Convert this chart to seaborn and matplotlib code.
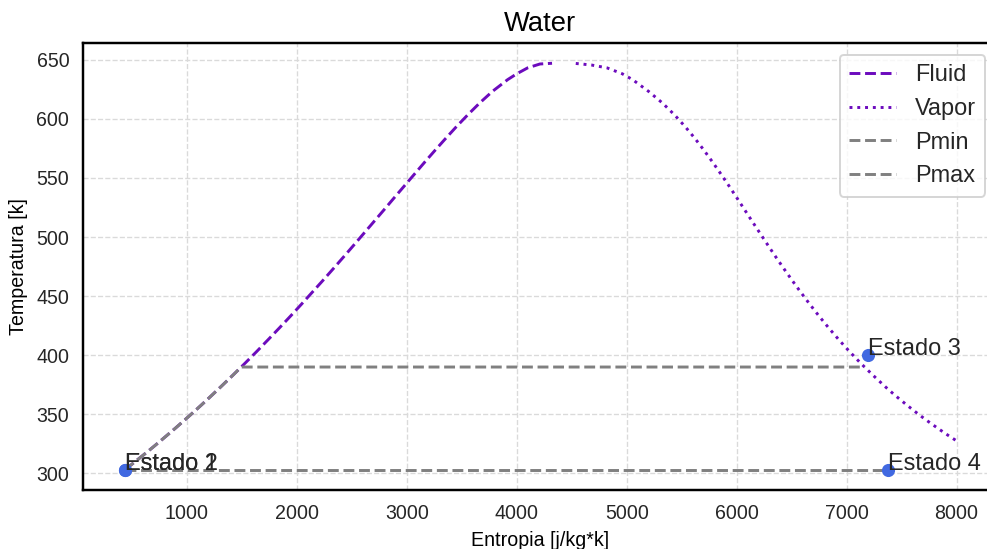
import pandas as pd
import seaborn as sns
import matplotlib.pyplot as plt

# saturated liquid line (T in K, s in J/kg*K)
t_liq = [303.15, 308.15, 313.15, 318.15, 323.15, 328.15, 333.15, 338.15, 343.15, 348.15,
         353.15, 358.15, 363.15, 368.15, 373.15, 383.15, 393.15, 403.15, 413.15, 423.15,
         433.15, 443.15, 453.15, 463.15, 473.15, 483.15, 493.15, 503.15, 513.15, 523.15,
         533.15, 543.15, 553.15, 563.15, 573.15, 583.15, 593.15, 603.15, 613.15, 623.15,
         633.15, 638.15, 643.15, 646.4, 647.0]
s_liq = [437, 505, 572, 639, 704, 768, 831, 894, 955, 1016,
         1076, 1135, 1193, 1250, 1307, 1419, 1528, 1635, 1739, 1842,
         1943, 2042, 2139, 2236, 2331, 2425, 2518, 2610, 2702, 2794,
         2885, 2977, 3069, 3161, 3255, 3351, 3449, 3552, 3660, 3778,
         3917, 4001, 4100, 4211, 4321]

# saturated vapor line
t_vap = [328.15, 333.15, 338.15, 343.15, 348.15, 353.15, 358.15, 363.15, 368.15, 373.15,
         383.15, 393.15, 403.15, 413.15, 423.15, 433.15, 443.15, 453.15, 463.15, 473.15,
         483.15, 493.15, 503.15, 513.15, 523.15, 533.15, 543.15, 553.15, 563.15, 573.15,
         583.15, 593.15, 603.15, 613.15, 623.15, 633.15, 638.15, 643.15, 645.5, 647.0]
s_vap = [7990, 7908, 7830, 7754, 7681, 7611, 7544, 7478, 7415, 7354,
         7239, 7129, 7026, 6929, 6837, 6749, 6665, 6584, 6506, 6430,
         6356, 6284, 6213, 6142, 6072, 6002, 5931, 5858, 5783, 5705,
         5623, 5534, 5437, 5328, 5200, 5054, 4959, 4820, 4681, 4521]

# isobars
pmin_s = [437, 7378]
pmin_t = [303.15, 303.15]
pmax_s = [437, 505, 572, 639, 704, 768, 831, 894, 955, 1016,
          1076, 1135, 1193, 1250, 1307, 1419, 1494, 7164]
pmax_t = [303.15, 308.15, 313.15, 318.15, 323.15, 328.15, 333.15, 338.15, 343.15, 348.15,
          353.15, 358.15, 363.15, 368.15, 373.15, 383.15, 390.0, 390.0]

# estados
estado_nome = ["Estado 1", "Estado 2", "Estado 3", "Estado 4"]
estado_s = [437, 437, 7196, 7378]
estado_t = [303.15, 303.15, 400.0, 303.15]

sns.set_style("white")
plt.rcParams['font.family'] = ['Liberation Sans', 'DejaVu Sans']

fig, ax = plt.subplots(figsize=(7.0, 3.894), dpi=141)
fig.subplots_adjust(left=83/987, right=997/987, bottom=1-490/549, top=1-43/549)

roxo = '#6c0bbd'
sns.lineplot(x=s_liq, y=t_liq, ax=ax, color=roxo, linestyle='--', lw=1.5,
             label='Fluid', sort=False, estimator=None)
sns.lineplot(x=s_vap, y=t_vap, ax=ax, color=roxo, linestyle=':', lw=1.5,
             label='Vapor', sort=False, estimator=None)
sns.lineplot(x=pmin_s, y=pmin_t, ax=ax, color='gray', linestyle='--', lw=1.5,
             label='Pmin', sort=False, estimator=None)
sns.lineplot(x=pmax_s, y=pmax_t, ax=ax, color='gray', linestyle='--', lw=1.5,
             label='Pmax', sort=False, estimator=None)

df = pd.DataFrame({'s': estado_s, 't': estado_t, 'nome': estado_nome})
sns.scatterplot(data=df, x='s', y='t', ax=ax, color='royalblue', s=45,
                linewidth=0, zorder=5, legend=False)
for _, r in df.iterrows():
    ax.text(r['s'], r['t'], r['nome'], fontsize=12, color='#262626', zorder=6)

ax.set_xlim(55, 8368)
ax.set_ylim(285.96, 664.2)
ax.grid(True, linestyle='--', color='#dadada', linewidth=0.7)
for sp in ax.spines.values():
    sp.set_color('black')
    sp.set_linewidth(1.25)

ax.set_xlabel('Entropia [j/kg*k]', fontsize=10, color='black')
ax.set_ylabel('Temperatura [k]', fontsize=10, color='black')
ax.set_title('Water', fontsize=14, color='black')
ax.legend(loc='upper right', fontsize=12)

fig.savefig('out.png', dpi=141)
